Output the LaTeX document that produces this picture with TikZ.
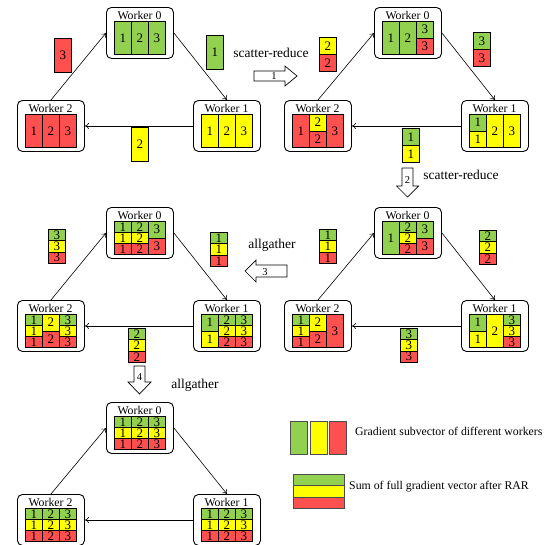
\documentclass[tikz,border=0pt]{standalone}
\usepackage{fontspec}
\setmainfont{Liberation Serif}
\usetikzlibrary{calc,arrows.meta}
\definecolor{gG}{RGB}{146,208,80}
\definecolor{gY}{RGB}{255,255,0}
\definecolor{gR}{RGB}{255,80,80}
\newcounter{cellno}
\tikzset{
  wbox/.style={draw, rounded corners=5pt, line width=0.9pt, minimum width=67pt, minimum height=51pt, inner sep=0, anchor=north west, fill=white},
  wtitle/.style={font=\fontsize{11.8}{12}\selectfont, anchor=base, inner sep=0},
  cellbox/.style={draw, line width=0.8pt, inner sep=0, anchor=north west, minimum width=17pt, font=\fontsize{13}{13}\selectfont},
  ring/.style={-{To[length=4pt,width=6pt]}, line width=0.6pt},
  barrow/.style={draw, line width=0.7pt, fill=white},
  alabel/.style={font=\fontsize{10.5}{11}\selectfont, inner sep=0},
  steplabel/.style={font=\fontsize{13.5}{14}\selectfont, inner sep=0},
  legtext/.style={font=\fontsize{11.8}{12}\selectfont, inner sep=0, anchor=west},
  legbar/.style={draw=black!70, line width=0.8pt, inner sep=0, anchor=north west},
}
% worker box: name, x, y, number
\newcommand\wk[4]{\node[wbox] (#1) at (#2,#3) {};
  \node[wtitle] (#1t) at ($(#1.north west)+(33.5,12)$) {Worker #4};}
% cell in worker: box, col, y0, y1 (sixths), colour, label
\newcommand\cl[6]{\stepcounter{cellno}\node[cellbox, fill=#5, minimum height={(#4-#3)*5.5pt}] (cell\arabic{cellno}) at ($(#1.north west)+({8+17*#2},{14+5.5*#3})$) {#6};}
\newcommand\trio[3]{\cl{#1}{#2}{0}{2}{gG}{#3}\cl{#1}{#2}{2}{4}{gY}{#3}\cl{#1}{#2}{4}{6}{gR}{#3}}
% floating cell: x, y, height, colour, label
\newcommand\fl[5]{\stepcounter{cellno}\node[cellbox, fill=#4, minimum height=#3pt] (cell\arabic{cellno}) at (#1,#2) {#5};}
\newcommand\ftrio[3]{\fl{#1}{#2}{11.33}{gG}{#3}\fl{#1}{#2+11.33}{11.33}{gY}{#3}\fl{#1}{#2+22.67}{11.33}{gR}{#3}}
\newcommand\ring[3]{\draw[ring] (#3.north) -- (#1.west); \draw[ring] (#1.east) -- (#2.north); \draw[ring] (#2.west) -- (#3.east);}
\begin{document}
\begin{tikzpicture}[x=1pt,y=-1pt]
\useasboundingbox (0,0) rectangle (549,544);
% ---------- panel 1
\wk{a0}{106}{7}{0}\wk{a1}{193}{100}{1}\wk{a2}{17}{100}{2}
\cl{a0}{0}{0}{6}{gG}{1}\cl{a0}{1}{0}{6}{gG}{2}\cl{a0}{2}{0}{6}{gG}{3}
\cl{a1}{0}{0}{6}{gY}{1}\cl{a1}{1}{0}{6}{gY}{2}\cl{a1}{2}{0}{6}{gY}{3}
\cl{a2}{0}{0}{6}{gR}{1}\cl{a2}{1}{0}{6}{gR}{2}\cl{a2}{2}{0}{6}{gR}{3}
\ring{a0}{a1}{a2}
\fl{54}{38}{34}{gR}{3}
\fl{206}{35}{34}{gG}{1}
\fl{131}{127}{34}{gY}{2}
% ---------- panel 2
\wk{b0}{374}{7}{0}\wk{b1}{461}{100}{1}\wk{b2}{284}{100}{2}
\cl{b0}{0}{0}{6}{gG}{1}\cl{b0}{1}{0}{6}{gG}{2}\cl{b0}{2}{0}{3}{gG}{3}\cl{b0}{2}{3}{6}{gR}{3}
\cl{b1}{0}{0}{3}{gG}{1}\cl{b1}{0}{3}{6}{gY}{1}\cl{b1}{1}{0}{6}{gY}{2}\cl{b1}{2}{0}{6}{gY}{3}
\cl{b2}{0}{0}{6}{gR}{1}\cl{b2}{1}{0}{3}{gY}{2}\cl{b2}{1}{3}{6}{gR}{2}\cl{b2}{2}{0}{6}{gR}{3}
\ring{b0}{b1}{b2}
\fl{319}{37}{17}{gY}{2}\fl{319}{54}{17}{gR}{2}
\fl{473}{32}{17}{gG}{3}\fl{473}{49}{17}{gR}{3}
\fl{402}{128}{17}{gG}{1}\fl{402}{145}{17}{gY}{1}
% ---------- panel 3
\wk{c0}{374}{207}{0}\wk{c1}{461}{300}{1}\wk{c2}{284}{300}{2}
\cl{c0}{0}{0}{6}{gG}{1}\trio{c0}{1}{2}\cl{c0}{2}{0}{3}{gG}{3}\cl{c0}{2}{3}{6}{gR}{3}
\cl{c1}{0}{0}{3}{gG}{1}\cl{c1}{0}{3}{6}{gY}{1}\cl{c1}{1}{0}{6}{gY}{2}\trio{c1}{2}{3}
\trio{c2}{0}{1}\cl{c2}{1}{0}{3}{gY}{2}\cl{c2}{1}{3}{6}{gR}{2}\cl{c2}{2}{0}{6}{gR}{3}
\ring{c0}{c1}{c2}
\ftrio{319}{229}{1}
\ftrio{479}{230}{2}
\ftrio{400}{328}{3}
% ---------- panel 4
\wk{d0}{106}{207}{0}\wk{d1}{193}{300}{1}\wk{d2}{17}{300}{2}
\trio{d0}{0}{1}\trio{d0}{1}{2}\cl{d0}{2}{0}{3}{gG}{3}\cl{d0}{2}{3}{6}{gR}{3}
\cl{d1}{0}{0}{3}{gG}{1}\cl{d1}{0}{3}{6}{gY}{1}\trio{d1}{1}{2}\trio{d1}{2}{3}
\trio{d2}{0}{1}\cl{d2}{1}{0}{3}{gY}{2}\cl{d2}{1}{3}{6}{gR}{2}\trio{d2}{2}{3}
\ring{d0}{d1}{d2}
\ftrio{48}{229}{3}
\ftrio{210}{232}{1}
\ftrio{128}{328}{2}
% ---------- panel 5
\wk{e0}{106}{402}{0}\wk{e1}{193}{494}{1}\wk{e2}{17}{494}{2}
\trio{e0}{0}{1}\trio{e0}{1}{2}\trio{e0}{2}{3}
\trio{e1}{0}{1}\trio{e1}{1}{2}\trio{e1}{2}{3}
\trio{e2}{0}{1}\trio{e2}{1}{2}\trio{e2}{2}{3}
\ring{e0}{e1}{e2}
% ---------- step arrows
\draw[barrow] (254,71) -- (285,71) -- (285,66) -- (297,76) -- (285,86) -- (285,81) -- (254,81) -- cycle;
\node[alabel] (n1) at (274,76) {1};
\node[steplabel] (s1) at (271,53) {scatter-reduce};
\draw[barrow] (402,168) -- (413,168) -- (413,186) -- (418.5,186) -- (407.5,197) -- (396.5,186) -- (402,186) -- cycle;
\node[alabel] (n2) at (407.5,180) {2};
\node[steplabel] (s2) at (461,175) {scatter-reduce};
\draw[barrow] (287,265) -- (256,265) -- (256,260) -- (245,271) -- (256,282) -- (256,277) -- (287,277) -- cycle;
\node[alabel] (n3) at (265,272) {3};
\node[steplabel] (s3) at (272,245) {allgather};
\draw[barrow] (134,366) -- (145,366) -- (145,382) -- (151,382) -- (139.5,394) -- (128,382) -- (134,382) -- cycle;
\node[alabel] (n4) at (139.5,377) {4};
\node[steplabel] (s4) at (195,385) {allgather};
% ---------- legend
\node[legbar, fill=gG, minimum width=17pt, minimum height=33pt] (lg1) at (290,421) {};
\node[legbar, fill=gY, minimum width=17pt, minimum height=33pt] (lg2) at (309.5,421) {};
\node[legbar, fill=gR, minimum width=17pt, minimum height=33pt] (lg3) at (329,421) {};
\node[legtext] (lt1) at (355,431) {Gradient subvector of different workers};
\node[legbar, fill=gG, minimum width=51pt, minimum height=11.3pt] (lh1) at (293,474) {};
\node[legbar, fill=gY, minimum width=51pt, minimum height=11.3pt] (lh2) at (293,485.3) {};
\node[legbar, fill=gR, minimum width=51pt, minimum height=11.3pt] (lh3) at (293,496.6) {};
\node[legtext] (lt2) at (349,487) {Sum of full gradient vector after RAR};
\end{tikzpicture}
\end{document}
